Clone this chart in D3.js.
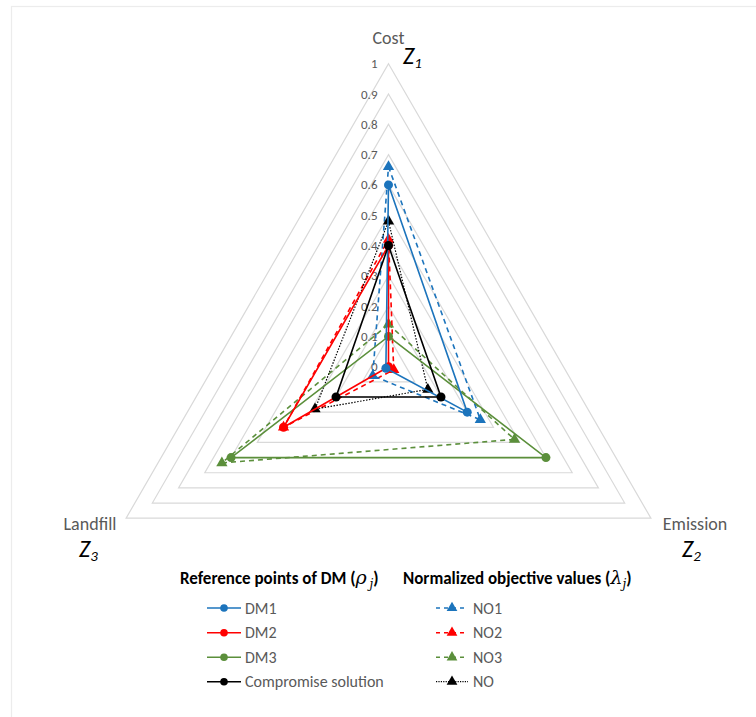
<!DOCTYPE html>
<html><head><meta charset="utf-8">
<script src="https://cdn.jsdelivr.net/npm/d3@7"></script>
<style>
body{margin:0;background:#fff;}
svg{display:block;font-family:Calibri,Carlito,"Liberation Sans Narrow","Open Sans",sans-serif;}
</style></head>
<body>
<svg id="chart" width="756" height="717"></svg>
<script>
// ---- data ----
const axes = ["Cost", "Emission", "Landfill"];
const axisSymbols = ["1", "2", "3"];
const ticks = [0, 0.1, 0.2, 0.3, 0.4, 0.5, 0.6, 0.7, 0.8, 0.9, 1];
const tickLabels = ["0", "0.1", "0.2", "0.3", "0.4", "0.5", "0.6", "0.7", "0.8", "0.9", "1"];
const seriesNames = ["DM1", "DM2", "DM3", "Compromise solution", "NO1", "NO2", "NO3", "NO"];
// values in order Cost, Emission, Landfill
const DM1 = [0.60, 0.30, 0.01];
const DM2 = [0.40, 0.00, 0.40];
const DM3 = [0.10, 0.60, 0.60];
const Compromise = [0.40, 0.20, 0.20];
const NO1 = [0.66, 0.35, 0.06];
const NO2 = [0.42, 0.02, 0.40];
const NO3 = [0.14, 0.48, 0.635];
const NO = [0.48, 0.15, 0.28];
const seriesValues = [DM1, DM2, DM3, Compromise, NO1, NO2, NO3, NO];

const colors = ["#1c74bc", "#ff0000", "#5b8f3b", "#000000", "#1c74bc", "#ff0000", "#5b8f3b", "#000000"];
const dashes = [null, null, null, null, "5,4", "5,4", "5,4", "1.5,1.5"];
const markers = ["circle", "circle", "circle", "circle", "triangle", "triangle", "triangle", "triangle"];

// ---- layout ----
const svg = d3.select("#chart");
const cx = 388.5, cy = 366.7;
const r = d3.scaleLinear().domain([0, 1]).range([0, 303]);
const angles = [-90, 30, 150].map(a => a * Math.PI / 180);
const pt = (v, i) => [cx + r(v) * Math.cos(angles[i]), cy + r(v) * Math.sin(angles[i])];

// frame
svg.append("rect").attr("x", 11.5).attr("y", 6.5).attr("width", 800).attr("height", 800)
  .attr("fill", "none").attr("stroke", "#ececec").attr("stroke-width", 1.2);

// grid triangles
const gridG = svg.append("g");
ticks.slice(1).forEach(t => {
  gridG.append("polygon")
    .attr("points", [0, 1, 2].map(i => pt(t, i).join(",")).join(" "))
    .attr("fill", "none").attr("stroke", "#d9d9d9").attr("stroke-width", 1.2);
});

// tick labels
ticks.forEach((t, k) => {
  svg.append("text").attr("x", cx - 11).attr("y", pt(t, 0)[1] + 4.5)
    .attr("text-anchor", "end").attr("font-size", 13).attr("fill", "#595959")
    .text(tickLabels[k]);
});

// series
const line = d3.line();
const order = [6, 5, 4, 7, 2, 1, 0, 3];
order.forEach(s => {
  const vals = seriesValues[s];
  const pts = vals.map((v, i) => pt(v, i));
  const g = svg.append("g");
  g.append("path").attr("d", line(pts) + "Z")
    .attr("fill", "none").attr("stroke", colors[s]).attr("stroke-width", s === 7 ? 1.2 : 1.6)
    .attr("stroke-dasharray", dashes[s]);
  pts.forEach(p => {
    if (markers[s] === "circle") {
      g.append("circle").attr("cx", p[0]).attr("cy", p[1]).attr("r", 4.5).attr("fill", colors[s]);
    } else {
      g.append("path").attr("d", d3.symbol(d3.symbolTriangle, 55)())
        .attr("transform", `translate(${p[0]},${p[1]})`).attr("fill", colors[s]);
    }
  });
});

// axis labels
const labelPos = [
  {name: [cx, 44], z: [403, 64]},
  {name: [695, 530], z: [682, 557]},
  {name: [90, 530], z: [79, 557]}
];
axes.forEach((a, i) => {
  svg.append("text").attr("x", labelPos[i].name[0]).attr("y", labelPos[i].name[1])
    .attr("text-anchor", "middle").attr("font-size", 18).attr("fill", "#595959").text(a);
  const zt = svg.append("text").attr("x", labelPos[i].z[0]).attr("y", labelPos[i].z[1])
    .attr("font-size", 24).attr("font-style", "italic").attr("fill", "#000");
  zt.append("tspan").text("Z");
  zt.append("tspan").attr("font-size", 15).attr("dy", 4).text(axisSymbols[i]);
});

// legend
const t1 = svg.append("text").attr("x", 180).attr("y", 584).attr("font-size", 17)
  .attr("font-weight", "bold").attr("fill", "#000");
t1.append("tspan").text("Reference points of DM (");
t1.append("tspan").attr("font-family", "'DejaVu Serif',serif").attr("font-style", "italic").attr("font-weight", "normal").attr("font-size", 19).text("ρ");
t1.append("tspan").attr("font-family", "'DejaVu Serif',serif").attr("font-style", "italic").attr("font-weight", "normal").attr("font-size", 12).attr("dy", 4).attr("dx", 3).text("j");
t1.append("tspan").attr("dy", -4).text(")");

const t2 = svg.append("text").attr("x", 403).attr("y", 584).attr("font-size", 17)
  .attr("font-weight", "bold").attr("fill", "#000");
t2.append("tspan").text("Normalized objective values (");
t2.append("tspan").attr("font-family", "'DejaVu Serif',serif").attr("font-style", "italic").attr("font-weight", "normal").attr("font-size", 19).text("λ");
t2.append("tspan").attr("font-family", "'DejaVu Serif',serif").attr("font-style", "italic").attr("font-weight", "normal").attr("font-size", 12).attr("dy", 4).text("j");
t2.append("tspan").attr("dy", -4).text(")");

const legRows = [608, 632.7, 657.3, 681.7];
seriesNames.forEach((n, s) => {
  const col = s < 4 ? 0 : 1;
  const y = legRows[s % 4];
  const x0 = col === 0 ? 207 : 436, x1 = col === 0 ? 241 : 468, xm = (x0 + x1) / 2;
  const g = svg.append("g");
  g.append("line").attr("x1", x0).attr("x2", x1).attr("y1", y).attr("y2", y)
    .attr("stroke", colors[s]).attr("stroke-width", s === 7 ? 1.2 : 1.6)
    .attr("stroke-dasharray", s === 7 ? "1.2,1.2" : (dashes[s] ? "4,4" : null));
  if (markers[s] === "circle") g.append("circle").attr("cx", xm).attr("cy", y).attr("r", 3.8).attr("fill", colors[s]);
  else g.append("path").attr("d", d3.symbol(d3.symbolTriangle, 50)()).attr("transform", `translate(${xm},${y})`).attr("fill", colors[s]);
  g.append("text").attr("x", col === 0 ? 245 : 473).attr("y", y + 5.5).attr("font-size", 16)
    .attr("fill", "#595959").text(n);
});
</script>
</body></html>
